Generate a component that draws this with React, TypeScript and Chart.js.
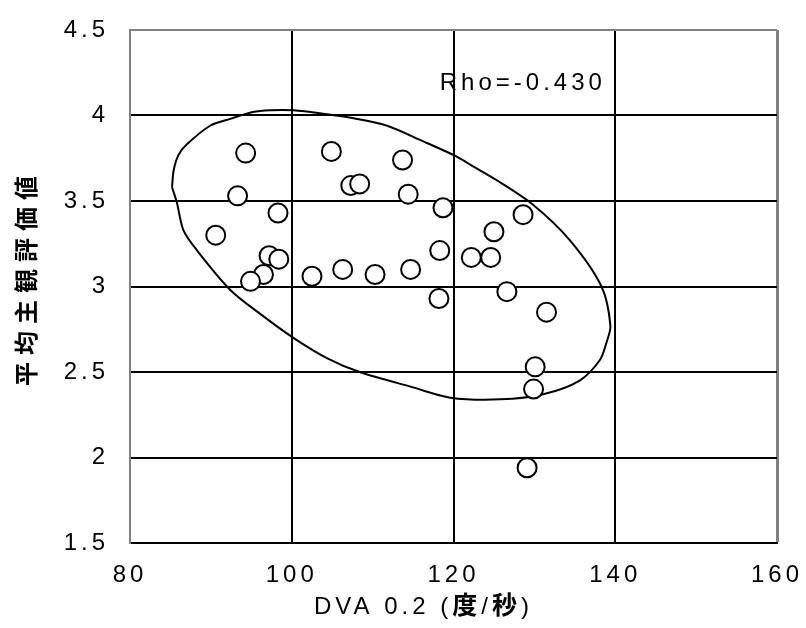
import React, { useEffect, useRef } from 'react';
import { Chart, registerables } from 'chart.js';

Chart.register(...registerables);

// ---- data ----
const dvaValues = [94.3, 104.9, 113.7, 107.3, 108.4, 114.4, 93.3, 98.3, 118.7, 90.6, 97.2, 98.4, 118.3, 96.5, 94.9, 102.5, 106.3, 110.3, 114.7, 118.2, 122.2, 124.6, 128.6, 125.0, 126.6, 131.5, 130.1, 129.9, 129.1];
const ratingValues = [3.78, 3.79, 3.74, 3.59, 3.6, 3.54, 3.53, 3.43, 3.46, 3.3, 3.18, 3.16, 3.21, 3.07, 3.03, 3.06, 3.1, 3.07, 3.1, 2.93, 3.17, 3.17, 3.42, 3.32, 2.97, 2.85, 2.53, 2.4, 1.94];

const ellipseX = [85.2, 85.4, 86.0, 87.0, 89.9, 92.4, 95.2, 97.3, 100.2, 103.9, 108.1, 111.8, 116.2, 120.4, 121.8, 125.4, 129.8, 134.4, 138.3, 139.4, 138.9, 138.1, 135.6, 131.1, 125.8, 119.6, 115.0, 108.4, 104.4, 100.2, 96.1, 92.4, 88.3, 86.6, 85.8, 85.2];
const ellipseY = [3.58, 3.68, 3.77, 3.83, 3.94, 3.98, 4.02, 4.03, 4.03, 4.01, 3.98, 3.94, 3.85, 3.76, 3.72, 3.62, 3.48, 3.27, 3.0, 2.77, 2.67, 2.57, 2.45, 2.37, 2.34, 2.35, 2.41, 2.5, 2.58, 2.7, 2.84, 2.98, 3.21, 3.33, 3.49, 3.58];

const xTicks = [80, 100, 120, 140, 160];
const yTicks = [1.5, 2, 2.5, 3, 3.5, 4, 4.5];

const rhoText = 'Rho=-0.430';
const rhoAt = { x: 118.3, y: 4.19 };
const yTitle = '平均主観評価値';
const xTitleParts = [
  { text: 'DVA 0.2 (', bold: false },
  { text: '度', bold: true },
  { text: '/', bold: false },
  { text: '秒', bold: true },
  { text: ')', bold: false },
];

const FAMILY = "'Liberation Sans', Arial, 'Noto Sans CJK JP', sans-serif";
const SPACING = '4px';

const spacingPlugin = {
  id: 'spacing',
  beforeUpdate(chart: any) { chart.ctx.letterSpacing = SPACING; },
  beforeLayout(chart: any) { chart.ctx.letterSpacing = SPACING; },
  beforeDraw(chart: any) { chart.ctx.letterSpacing = SPACING; },
};

const textPlugin = {
  id: 'texts',
  afterDraw(chart: any) {
    const ctx = chart.ctx;
    const xs = chart.scales.x;
    const ys = chart.scales.y;
    const ca = chart.chartArea;
    ctx.save();
    ctx.fillStyle = '#000';
    ctx.letterSpacing = SPACING;
    // Rho label
    ctx.font = `24px ${FAMILY}`;
    ctx.textAlign = 'left';
    ctx.textBaseline = 'middle';
    ctx.fillText(rhoText, xs.getPixelForValue(rhoAt.x), ys.getPixelForValue(rhoAt.y));
    // x axis title with mixed weights
    let total = 0;
    const widths = xTitleParts.map((p) => {
      ctx.font = `${p.bold ? 'bold 25px' : '24px'} ${FAMILY}`;
      const w = ctx.measureText(p.text).width;
      total += w;
      return w;
    });
    let x = (ca.left + ca.right) / 2 - 30 - total / 2;
    const y = ca.bottom + 64;
    xTitleParts.forEach((p, i) => {
      ctx.font = `${p.bold ? 'bold 25px' : '24px'} ${FAMILY}`;
      ctx.fillText(p.text, x, y);
      x += widths[i];
    });
    // y axis title (rotated)
    ctx.save();
    ctx.letterSpacing = '7px';
    ctx.font = `bold 24px 'Noto Sans CJK JP', sans-serif`;
    ctx.translate(26, (ca.top + ca.bottom) / 2 - 6);
    ctx.rotate(-Math.PI / 2);
    ctx.textAlign = 'center';
    ctx.textBaseline = 'middle';
    ctx.fillText(yTitle, 3, 0);
    ctx.restore();
    ctx.restore();
  },
};

export default function App() {
  const ref = useRef<HTMLCanvasElement>(null);
  useEffect(() => {
    if (!ref.current) return;
    const chart = new Chart(ref.current, {
      type: 'scatter',
      data: {
        datasets: [
          {
            label: 'points',
            data: dvaValues.map((v, i) => ({ x: v, y: ratingValues[i] })),
            pointRadius: 9.5,
            pointBorderWidth: 2,
            pointBackgroundColor: '#fff',
            pointBorderColor: '#000',
            showLine: false,
          },
          {
            label: 'ellipse',
            data: ellipseX.map((v, i) => ({ x: v, y: ellipseY[i] })),
            showLine: true,
            pointRadius: 0,
            borderColor: '#000',
            borderWidth: 2,
            tension: 0.3,
            fill: false,
          } as any,
        ],
      },
      options: {
        animation: false,
        responsive: false,
        devicePixelRatio: 1,
        layout: { padding: { left: 0, top: 30, right: 29, bottom: 0 } },
        plugins: { legend: { display: false }, tooltip: { enabled: false } },
        scales: {
          x: {
            type: 'linear',
            min: 80,
            max: 160,
            afterBuildTicks: (s: any) => { s.ticks = xTicks.map((v) => ({ value: v })); },
            afterFit: (s: any) => { s.height = 85; s.paddingLeft = 0; s.paddingRight = 0; },
            ticks: { font: { family: FAMILY, size: 24 }, color: '#000', padding: 18, callback: (v: any) => String(v) },
            grid: {
              drawTicks: false,
              tickLength: 0,
              color: (c: any) => (c.tick && (c.tick.value === 80 || c.tick.value === 160) ? '#808080' : '#000'),
              lineWidth: (c: any) => (c.tick && c.tick.value === 160 ? 3 : 2),
            },
            border: { display: true, color: '#000', width: 2 },
          },
          y: {
            type: 'linear',
            min: 1.5,
            max: 4.5,
            afterBuildTicks: (s: any) => { s.ticks = yTicks.map((v) => ({ value: v })); },
            afterFit: (s: any) => { s.width = 130; s.paddingTop = 0; s.paddingBottom = 0; },
            ticks: { font: { family: FAMILY, size: 24 }, color: '#000', padding: 21, callback: (v: any) => String(v) },
            grid: {
              drawTicks: false,
              tickLength: 0,
              color: (c: any) => (c.tick && c.tick.value === 4.5 ? '#808080' : '#000'),
              lineWidth: 2,
            },
            border: { display: true, color: '#808080', width: 2 },
          },
        },
      },
      plugins: [spacingPlugin, textPlugin],
    });
    return () => chart.destroy();
  }, []);
  return (
    <div style={{ position: 'fixed', left: 0, top: 0, width: 806, height: 628, background: '#fff' }}>
      <canvas ref={ref} width={806} height={628} style={{ display: 'block', width: 806, height: 628 }} />
    </div>
  );
}
